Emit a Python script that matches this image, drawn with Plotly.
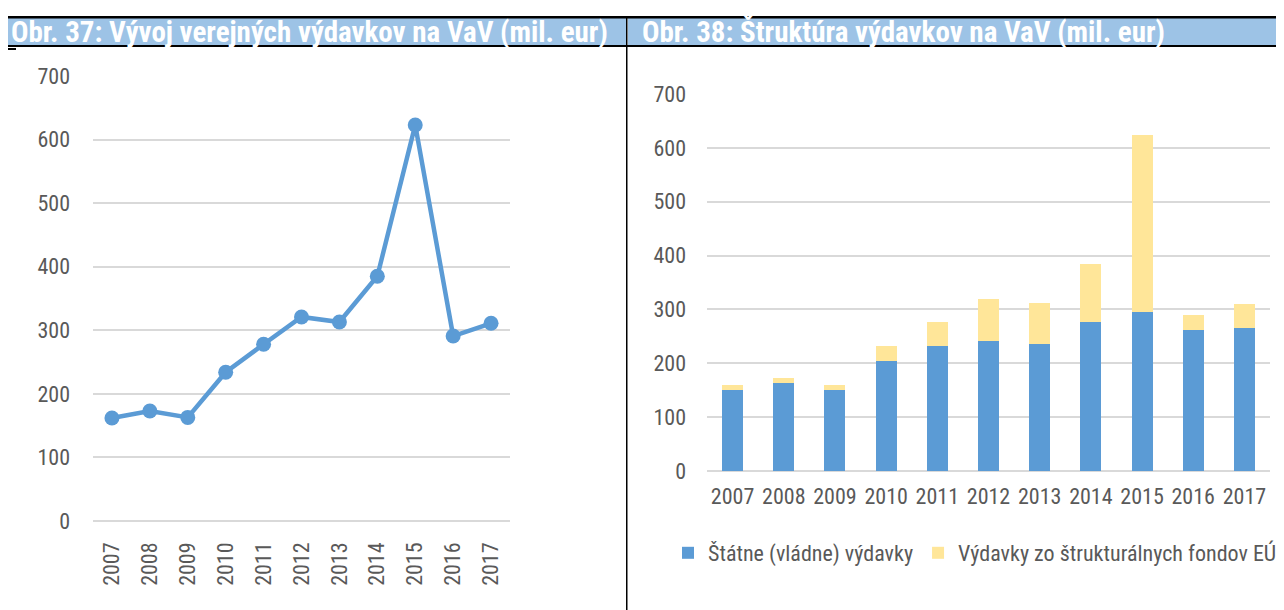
import plotly.graph_objects as go

years = ["2007", "2008", "2009", "2010", "2011", "2012", "2013", "2014", "2015", "2016", "2017"]
total_public = [162, 173, 163, 234, 278, 321, 313, 385, 623, 291, 311]
state_exp = [150, 164, 151, 205, 232, 241, 236, 276, 295, 262, 265]
eu_funds = [9, 8, 9, 28, 45, 78, 76, 108, 328, 27, 46]
y_ticks = [0, 100, 200, 300, 400, 500, 600, 700]

title_left = "Obr. 37: Vývoj verejných výdavkov na VaV (mil. eur)"
title_right = "Obr. 38: Štruktúra výdavkov na VaV (mil. eur)"
name_state = "Štátne (vládne) výdavky"
name_eu = "Výdavky zo štrukturálnych fondov EÚ"

OFF = 8  # page body margin
W, H = 1284 - OFF, 610 - OFF
FONT = "Roboto Condensed, Liberation Sans Narrow, Arial Narrow, Liberation Sans, sans-serif"
BLUE = "#5B9BD5"
YELLOW = "#FFE699"
GRID = "#D9D9D9"
TXT = "#595959"

def px(x):
    return (x - OFF) / W

def py(y):
    return 1 - (y - OFF) / H

fig = go.Figure()
fig.add_trace(go.Scatter(
    x=years, y=total_public, mode="lines+markers",
    line=dict(color=BLUE, width=4.5),
    marker=dict(color=BLUE, size=15),
    xaxis="x", yaxis="y", showlegend=False, hoverinfo="x+y"))

fig.add_trace(go.Bar(x=years, y=state_exp, name=name_state, marker=dict(color=BLUE, line=dict(width=0)),
                     xaxis="x2", yaxis="y2"))
fig.add_trace(go.Bar(x=years, y=eu_funds, name=name_eu, marker=dict(color=YELLOW, line=dict(width=0)),
                     xaxis="x2", yaxis="y2"))

axis_font = dict(family=FONT, size=22, color=TXT)

fig.update_layout(
    width=W, height=H,
    margin=dict(l=0, r=0, t=0, b=0, pad=0, autoexpand=False),
    paper_bgcolor="white", plot_bgcolor="white",
    barmode="stack", bargap=0.59,
    font=dict(family=FONT, color=TXT),
    xaxis=dict(domain=[px(93), px(510)], type="category", tickangle=-90, range=[-0.5, 10.5],
               showgrid=False, showline=False, zeroline=False, automargin=False,
               tickfont=axis_font, ticks="", ticklabelstandoff=16, anchor="y"),
    yaxis=dict(domain=[py(521), py(76)], range=[0, 700], tickvals=y_ticks, automargin=False,
               showgrid=True, gridcolor=GRID, gridwidth=1.5, zeroline=True, zerolinecolor=GRID,
               zerolinewidth=1.5, showline=False, ticks="", tickfont=axis_font, ticklabelstandoff=22,
               anchor="x"),
    xaxis2=dict(domain=[px(707), px(1270)], type="category", range=[-0.5, 10.5], automargin=False,
                showgrid=False, showline=False, zeroline=False,
                tickfont=axis_font, ticks="", ticklabelstandoff=10, anchor="y2"),
    yaxis2=dict(domain=[py(471), py(94)], range=[0, 700], tickvals=y_ticks, automargin=False,
                showgrid=True, gridcolor=GRID, gridwidth=1.5, zeroline=True, zerolinecolor=GRID,
                zerolinewidth=1.5, showline=False, ticks="", tickfont=axis_font, ticklabelstandoff=20,
                anchor="x2"),
    legend=dict(orientation="h", x=px(668), y=py(553), xanchor="left", yanchor="middle",
                font=dict(family=FONT, size=22, color=TXT), traceorder="normal",
                itemwidth=30, bgcolor="rgba(0,0,0,0)"),
    shapes=[
        dict(type="rect", xref="paper", yref="paper", x0=px(7), x1=px(627), y0=py(45), y1=py(18),
             fillcolor="#9DC3E6", line=dict(width=0), layer="below"),
        dict(type="rect", xref="paper", yref="paper", x0=px(628), x1=px(1290), y0=py(45), y1=py(18),
             fillcolor="#9DC3E6", line=dict(width=0), layer="below"),
        dict(type="rect", xref="paper", yref="paper", x0=px(7), x1=px(1290), y0=py(18.5), y1=py(16),
             fillcolor="black", line=dict(width=0)),
        dict(type="rect", xref="paper", yref="paper", x0=px(7), x1=px(1290), y0=py(47), y1=py(45),
             fillcolor="black", line=dict(width=0)),
        dict(type="rect", xref="paper", yref="paper", x0=px(7), x1=px(16), y0=py(50), y1=py(48),
             fillcolor="black", line=dict(width=0)),
        dict(type="rect", xref="paper", yref="paper", x0=px(626), x1=px(627.5), y0=py(615), y1=py(16),
             fillcolor="black", line=dict(width=0)),
    ],
    annotations=[
        dict(text="<b>" + title_left + "</b>", xref="paper", yref="paper", x=px(9), y=py(32),
             xanchor="left", yanchor="middle", showarrow=False,
             font=dict(family=FONT, size=29, color="white")),
        dict(text="<b>" + title_right + "</b>", xref="paper", yref="paper", x=px(640), y=py(32),
             xanchor="left", yanchor="middle", showarrow=False,
             font=dict(family=FONT, size=29, color="white")),
    ],
)

fig.write_html("out.html")
